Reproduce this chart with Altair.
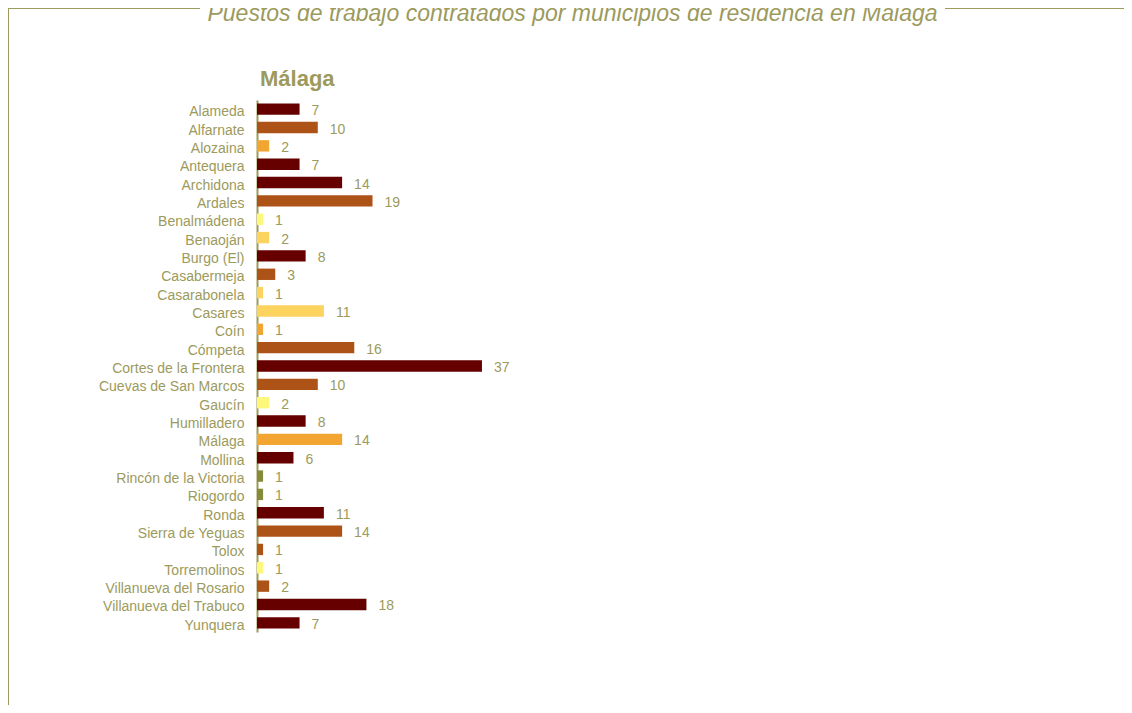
import altair as alt
import pandas as pd

municipios = ["Alameda", "Alfarnate", "Alozaina", "Antequera", "Archidona", "Ardales",
              "Benalmádena", "Benaoján", "Burgo (El)", "Casabermeja", "Casarabonela",
              "Casares", "Coín", "Cómpeta", "Cortes de la Frontera", "Cuevas de San Marcos",
              "Gaucín", "Humilladero", "Málaga", "Mollina", "Rincón de la Victoria",
              "Riogordo", "Ronda", "Sierra de Yeguas", "Tolox", "Torremolinos",
              "Villanueva del Rosario", "Villanueva del Trabuco", "Yunquera"]
puestos = [7, 10, 2, 7, 14, 19, 1, 2, 8, 3, 1, 11, 1, 16, 37, 10, 2, 8, 14, 6, 1, 1,
           11, 14, 1, 1, 2, 18, 7]
grupo = ["A", "B", "C", "A", "A", "B", "D", "E", "A", "B", "E", "E", "C", "B", "A", "B",
         "D", "A", "C", "A", "F", "F", "A", "B", "B", "D", "B", "A", "A"]
grupos = ["A", "B", "C", "D", "E", "F"]
paleta = ["#660000", "#ae5318", "#f2a531", "#fdf77a", "#fcd35e", "#86883a"]

titulo = "Puestos de trabajo contratados por municipios de residencia en Málaga"
cabecera = "Málaga"

df = pd.DataFrame({"municipio": municipios, "puestos": puestos, "grupo": grupo})

TXT = "#9c9a5c"
FONT = "Liberation Sans"
PAD_L, PAD_T = 249, 92
W, H = 867, 532
TOT_W, TOT_H = 1116, 697
PX_PER_UNIT = 6.08

y_enc = alt.Y("municipio:N", sort=municipios, title=None,
              scale=alt.Scale(paddingInner=0.38, paddingOuter=0.19),
              axis=alt.Axis(domainColor=TXT, domainWidth=2, ticks=False, grid=False,
                            labelColor=TXT, labelFont=FONT, labelFontSize=14,
                            labelPadding=13, labelOffset=3))
x_enc = alt.X("puestos:Q", scale=alt.Scale(domain=[0, W / PX_PER_UNIT]), axis=None)

base = alt.Chart(df)
bars = base.mark_bar().encode(
    x=x_enc, y=y_enc,
    color=alt.Color("grupo:N", scale=alt.Scale(domain=grupos, range=paleta), legend=None),
)
labels = base.mark_text(align="left", baseline="middle", dx=12, dy=2, font=FONT,
                        fontSize=14, color=TXT).encode(
    x=x_enc, y=alt.Y("municipio:N", sort=municipios), text="puestos:Q")

one = pd.DataFrame({"t": [cabecera]})
header = alt.Chart(one).mark_text(align="left", baseline="alphabetic", font=FONT,
                                  fontSize=22, fontWeight="bold", color=TXT).encode(
    x=alt.value(3), y=alt.value(-14), text="t:N")

tdf = pd.DataFrame({"t": [titulo]})
title = alt.Chart(tdf).mark_text(align="center", baseline="alphabetic", font=FONT,
                                 fontSize=23, fontStyle="italic", color=TXT).encode(
    x=alt.value(564.5 - PAD_L), y=alt.value(13 - PAD_T), text="t:N")

frame_df = pd.DataFrame({"k": [0]})
line_l = alt.Chart(frame_df).mark_rule(color=TXT, strokeWidth=1).encode(
    x=alt.value(-PAD_L), x2=alt.value(192 - PAD_L), y=alt.value(0.5 - PAD_T))
line_r = alt.Chart(frame_df).mark_rule(color=TXT, strokeWidth=1).encode(
    x=alt.value(937 - PAD_L), x2=alt.value(TOT_W - PAD_L), y=alt.value(0.5 - PAD_T))
line_v = alt.Chart(frame_df).mark_rule(color=TXT, strokeWidth=1).encode(
    x=alt.value(0.5 - PAD_L), y=alt.value(0.5 - PAD_T), y2=alt.value(TOT_H - PAD_T))

chart = alt.layer(line_l, line_r, line_v, title, header, bars, labels).properties(
    width=W, height=H,
    autosize=alt.AutoSizeParams(type="none"),
    padding={"left": PAD_L, "top": PAD_T, "right": TOT_W - PAD_L - W,
             "bottom": TOT_H - PAD_T - H},
).configure_view(stroke=None)

chart.save("out.html", embed_options={"renderer": "svg", "actions": False})
